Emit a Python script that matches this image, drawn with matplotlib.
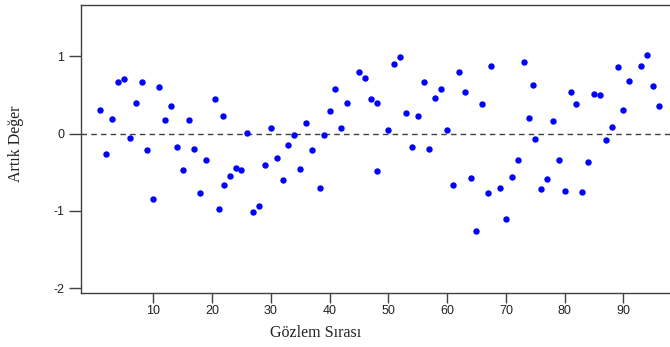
import matplotlib
matplotlib.use("Agg")
import matplotlib.pyplot as plt

plt.rcParams['axes.unicode_minus'] = False

# Gözlem sırası (x positions as read) and artık değer (residuals)
gozlem = [1, 2, 3, 4, 5, 6, 7, 8, 9, 10,
          11, 12, 13, 14, 15, 16, 17, 18, 19, 20.5,
          21.1, 21.9, 22.1, 23, 24, 25, 26, 27, 28, 29,
          30, 31, 32, 33, 34, 35, 36, 37, 38.3, 39,
          40, 41, 42, 43, 45, 46, 47, 48, 48, 50,
          51, 52, 53, 54, 55, 56, 57, 58, 59, 60,
          61, 62, 63, 64, 65, 66, 67, 67.5, 69, 70,
          71, 72, 73, 74, 74.6, 75, 76, 77, 78, 79,
          80, 81, 82, 83, 84, 85, 86, 87, 88, 89,
          90, 91, 93, 94, 95, 96]
artik = [0.31, -0.27, 0.19, 0.66, 0.70, -0.06, 0.39, 0.66, -0.21, -0.85,
         0.60, 0.17, 0.35, -0.18, -0.47, 0.17, -0.20, -0.77, -0.34, 0.45,
         -0.98, 0.22, -0.67, -0.55, -0.44, -0.47, 0.01, -1.02, -0.94, -0.41,
         0.065, -0.32, -0.60, -0.15, -0.02, -0.46, 0.13, -0.21, -0.71, -0.02,
         0.29, 0.58, 0.07, 0.39, 0.79, 0.72, 0.44, 0.39, -0.48, 0.05,
         0.90, 0.99, 0.26, -0.17, 0.22, 0.67, -0.20, 0.46, 0.58, 0.05,
         -0.67, 0.79, 0.54, -0.57, -1.26, 0.38, -0.77, 0.87, -0.70, -1.10,
         -0.56, -0.34, 0.93, 0.20, 0.63, -0.07, -0.72, -0.59, 0.16, -0.34,
         -0.74, 0.54, 0.38, -0.76, -0.37, 0.51, 0.50, -0.08, 0.09, 0.86,
         0.31, 0.68, 0.87, 1.02, 0.62, 0.35]

xticks = [10, 20, 30, 40, 50, 60, 70, 80, 90]
yticks = [-2, -1, 0, 1]

fig = plt.figure(figsize=(6.70, 3.47), dpi=100)
fig.patch.set_facecolor('white')
ax = fig.add_axes([81/670, 1 - 293/347, 590/670, 288/347])

ax.axhline(0, color='#404040', lw=1, ls=(0, (4, 3)), zorder=1)
ax.plot(gozlem, artik, 'o', color='#0000ff', ms=4.6, mec='none', zorder=3)

ax.set_xlim(-2.3, 98.1)
ax.set_ylim(-2.06, 1.66)
ax.set_xticks(xticks)
ax.set_yticks(yticks)

for s in ax.spines.values():
    s.set_color('#404040')
    s.set_linewidth(1)

ax.tick_params(axis='y', length=9, width=1, color='#404040', pad=3,
               labelsize=9, labelcolor='#222222')
ax.tick_params(axis='x', length=7, width=1, color='#404040', pad=2,
               labelsize=9, labelcolor='#222222')
for lab in ax.get_xticklabels() + ax.get_yticklabels():
    lab.set_family('Liberation Sans')

ax.set_xlabel('Gözlem Sırası', family='Liberation Serif', fontsize=11.5, color='#222222')
ax.set_ylabel('Artık Değer', family='Liberation Serif', fontsize=11.5, color='#222222')
ax.xaxis.set_label_coords(0.398, -0.11)
ax.yaxis.set_label_coords(-0.097, 0.517)

fig.savefig('out.png', dpi=100, facecolor='white')
